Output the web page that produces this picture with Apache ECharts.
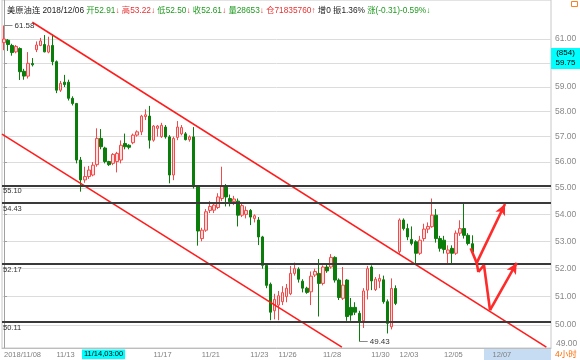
<!DOCTYPE html>
<html><head><meta charset="utf-8">
<script src="https://cdn.jsdelivr.net/npm/echarts@6/dist/echarts.min.js"></script>
<style>html,body{margin:0;padding:0;background:#fff}#c{width:580px;height:360px}</style>
</head><body><div id="c"></div>
<script>
// ---- data (4-hour candles) ----
const open  = [60.85,60.95,60.73,60.46,60.60,59.65,59.45,59.97,60.55,60.73,60.77,60.45,60.73,60.05,58.87,59.20,59.20,58.54,58.33,56.08,55.31,55.44,55.50,55.90,56.93,56.55,56.02,55.95,56.02,56.08,56.73,56.66,56.76,57.06,57.19,57.80,57.82,56.86,57.33,57.00,57.38,56.99,55.50,56.97,57.11,57.11,56.88,56.99,55.07,53.10,53.41,54.15,54.16,54.26,54.60,55.07,54.60,54.48,54.50,53.97,54.00,54.15,53.85,53.79,53.16,52.12,51.44,50.50,50.70,50.82,51.00,51.10,51.83,51.98,51.55,51.30,51.17,51.77,51.83,51.47,52.06,52.06,52.41,51.59,50.94,51.59,50.62,50.62,50.41,50.15,51.23,52.06,51.25,51.55,51.60,50.82,49.94,51.29,52.62,53.79,53.47,53.07,52.98,52.56,53.10,53.45,53.54,53.97,53.10,53.04,52.56,52.74,52.56,53.30,53.47,53.22,52.91];
const close = [61.00,60.77,60.43,60.69,59.63,59.45,59.98,59.92,60.75,60.92,60.46,60.72,60.05,58.87,59.15,59.10,58.54,58.33,56.08,55.31,55.44,55.69,55.88,56.93,56.60,56.02,55.90,56.30,56.34,56.66,56.60,56.58,57.06,57.19,57.82,57.87,56.86,57.42,57.42,57.45,56.99,55.50,56.93,57.38,57.36,56.88,56.99,55.05,53.38,53.41,54.10,54.30,54.35,54.66,55.07,54.66,54.48,54.58,53.97,54.33,54.15,53.90,53.95,53.16,52.12,51.40,50.45,50.90,51.03,51.14,51.30,51.83,52.00,51.62,51.30,51.15,51.73,51.90,51.47,52.06,51.92,52.41,51.59,50.97,51.41,50.30,50.35,50.45,50.11,51.20,52.00,51.56,51.62,51.65,50.82,50.06,51.29,50.76,53.79,53.47,53.16,52.92,52.56,53.04,53.45,53.55,53.97,53.10,52.74,52.70,52.68,52.56,53.30,53.47,53.22,52.92,52.61];
const low   = [60.53,60.50,60.30,60.40,59.29,59.30,59.35,59.85,60.45,60.70,60.44,60.40,59.90,58.75,58.80,59.00,58.45,58.25,55.95,54.86,55.20,55.35,55.45,55.82,56.50,55.95,55.85,55.88,55.60,55.95,56.50,56.50,56.70,57.00,57.06,57.66,56.53,56.80,57.00,56.95,56.92,55.18,55.30,56.86,57.05,56.85,56.80,54.98,52.84,53.00,53.35,54.05,54.05,54.20,54.50,54.30,54.30,54.35,53.55,53.90,53.85,53.60,53.70,52.86,52.00,51.30,50.17,50.20,50.17,50.70,50.80,51.05,51.75,51.50,51.15,51.10,50.70,51.70,50.30,51.40,51.85,52.00,51.50,50.88,50.88,50.15,50.15,50.35,49.43,49.90,50.90,51.23,51.20,51.30,50.75,49.71,49.85,50.70,52.55,53.40,53.04,52.85,52.20,52.50,53.00,53.30,53.50,52.95,52.62,52.55,52.20,52.17,52.50,53.20,53.10,52.85,52.50];
const high  = [61.58,61.00,60.80,60.75,60.65,59.75,60.45,60.20,60.90,61.05,61.17,61.10,61.20,60.10,59.25,59.50,59.30,58.62,58.35,56.20,55.82,55.85,56.00,57.33,57.30,56.60,56.05,56.35,56.40,56.85,57.12,56.70,57.12,57.25,57.87,58.09,58.23,57.46,57.46,57.55,57.46,57.06,57.00,57.62,57.46,57.18,57.05,57.38,55.10,53.50,54.20,54.50,54.45,54.80,55.82,55.15,54.75,54.70,54.60,54.45,54.30,54.20,54.00,53.90,53.20,52.20,51.50,51.10,51.20,51.37,51.45,52.10,52.22,52.05,51.62,51.35,51.90,52.00,52.35,52.12,52.15,52.53,52.45,51.65,52.06,51.62,50.95,50.80,50.50,51.30,52.10,52.12,51.70,51.80,51.75,50.90,51.65,51.40,53.85,53.85,53.65,53.55,53.04,53.20,53.65,53.70,54.60,54.20,53.20,53.20,52.85,52.85,53.40,53.78,54.45,53.30,53.22];

// time slots incl. empty future slots, day boundaries and shown date labels
const slotCount = 136;
const dayStarts = [0,13,19,25,31,37,43,49,55,61,67,68,73,79,85,91,97,98,103,109,114,121,127,133];
const dayNames  = ['2018/11/08','11/13','11/14','11/15','11/16','11/17','11/20','11/21','11/22','11/23','11/24','11/26','11/27','11/28','11/29','11/30','12/01','12/03','12/04','12/05','12/06','12/07','12/10','12/11'];
const shownDays = ['2018/11/08','11/13','11/15','11/17','11/21','11/23','11/26','11/28','11/30','12/03','12/05','12/07'];
const priceTicks = [50,51,52,53,54,55,56,57,58,59,60,61];

// support / resistance levels and last price
const levels = [55.10, 54.43, 52.17, 50.11];
const lastPrice = 52.61;

// hand-drawn annotations in [slot, price]
const upperChannel = [[7, 61.72], [134.35, 49.24]];
const lowerChannel = [[-0.5, 57.10], [83.7, 49.24]];
const arrowPath1 = [[115.6, 52.74], [117.1, 52.21], [124.1, 54.39]];
const arrowPath2 = [[117.1, 52.21], [117.5, 51.88], [118.9, 52.13], [120.4, 50.52], [127.0, 52.21]];

// ---- build ----
const FONT = "'Liberation Sans', 'Noto Sans CJK SC', sans-serif";
const cats = [];
for (let i = 0; i < slotCount; i++) {
  let d = 0;
  for (let k = 0; k < dayStarts.length; k++) if (dayStarts[k] <= i) d = k;
  cats.push(dayNames[d] + ' ' + (i - dayStarts[d]));
}
const tickSet = new Set(dayStarts);
const labelSet = new Set(dayStarts.filter((s, k) => shownDays.includes(dayNames[k])));
const candles = open.map((o, i) => [o, close[i], low[i], high[i]]);

let hiIdx = 0, loIdx = 0;
high.forEach((v, i) => { if (v > high[hiIdx]) hiIdx = i; });
low.forEach((v, i) => { if (v < low[loIdx]) loIdx = i; });

const arrowSegs = [];
[arrowPath1, arrowPath2].forEach(p => {
  for (let k = 0; k < p.length - 1; k++) {
    arrowSegs.push([{ coord: p[k] }, { coord: p[k + 1], symbol: k === p.length - 2 ? 'arrow' : 'none', symbolSize: [8, 11] }]);
  }
});

const HF = 8.3;
const chart = echarts.init(document.getElementById('c'), null, { renderer: 'canvas' });
chart.setOption({
  animation: false,
  backgroundColor: '#fff',
  title: {
    left: 2, top: 2,
    text: '{k|美原油连 2018/12/06 }{g|开52.91}{r|↓ }{r|高53.22↓ }{g|低52.50}{r|↓ }{g|收52.61}{r|↓ }{g|量28653}{r|↓ }{r|仓71835760↑ }{k|增0 振1.36% }{g|涨(-0.31)-0.59%↓}',
    textStyle: {
      fontSize: HF, fontFamily: FONT, fontWeight: 'normal',
      rich: {
        k: { color: '#222', fontSize: HF, fontFamily: FONT },
        g: { color: '#1f9a1f', fontSize: HF, fontFamily: FONT },
        r: { color: '#e83030', fontSize: HF, fontFamily: FONT }
      }
    }
  },
  grid: { left: 2, right: 29, top: 0, bottom: 12, show: true, borderColor: '#c8c8c8', borderWidth: 1 },
  xAxis: [{
    type: 'category', data: cats, boundaryGap: true, z: 5,
    axisLine: { lineStyle: { color: '#bdbdbd' } },
    axisTick: { interval: (i) => tickSet.has(i), length: 3, lineStyle: { color: '#9a9a9a' } },
    axisLabel: { interval: (i) => labelSet.has(i), formatter: (v) => v.split(' ')[0], align: 'left',
      color: '#808080', fontSize: 7.5, fontFamily: FONT, margin: 3 },
    splitLine: { show: false }
  }, {
    type: 'value', min: -0.5, max: slotCount - 0.5, show: false
  }],
  yAxis: {
    type: 'log', logBase: 10, position: 'right', min: 49.21, max: 62.68,
    axisLine: { show: true, lineStyle: { color: '#a0a0a0' } },
    axisTick: { show: true, length: 3, customValues: priceTicks, lineStyle: { color: '#a0a0a0' } },
    axisLabel: { customValues: priceTicks, formatter: (v) => Number(v).toFixed(2), color: '#888',
      fontSize: 8.5, fontFamily: FONT, margin: 4 },
    splitLine: { show: true, lineStyle: { color: '#dcdcdc', width: 1 } }
  },
  series: [{
    type: 'candlestick', data: candles, barWidth: 3,
    itemStyle: { color: '#ffdcdc', color0: '#0a7d0a', borderColor: '#f24a4a', borderColor0: '#0a7d0a', borderWidth: 1 },
    markLine: {
      silent: true, symbol: ['none', 'none'], animation: false,
      lineStyle: { color: '#3a3a3a', width: 2, type: 'solid' },
      label: { position: 'insideStartBottom', formatter: (p) => Number(p.value).toFixed(2), color: '#333',
        fontSize: 7.5, fontFamily: FONT, distance: [1, 2] },
      data: levels.map(v => ({ yAxis: v })).concat([{
        yAxis: lastPrice, lineStyle: { opacity: 0 },
        label: { position: 'end', distance: 1, formatter: (p) => Number(p.value).toFixed(2), color: '#f03030',
          fontSize: 8.5, fontFamily: FONT, backgroundColor: '#e6f3e6', padding: [1, 4, 1, 3] }
      }])
    }
  }, {
    type: 'line', xAxisIndex: 1, data: upperChannel, symbol: 'none', silent: true, clip: true, z: 3,
    lineStyle: { color: '#ff1c1c', width: 1.6 },
    markLine: {
      silent: true, symbol: ['none', 'none'], animation: false,
      lineStyle: { color: '#ff2a2a', width: 2.6, type: 'solid' },
      label: { show: false },
      data: arrowSegs
    }
  }, {
    type: 'line', xAxisIndex: 1, data: lowerChannel, symbol: 'none', silent: true, clip: true, z: 3,
    lineStyle: { color: '#ff1c1c', width: 1.6 },
    markLine: {
      silent: true, symbol: ['none', 'none'], animation: false,
      lineStyle: { color: '#8a8a8a', width: 1, type: 'solid' },
      label: { show: true, position: 'end', distance: 2, formatter: (p) => p.name, color: '#333', fontSize: 8, fontFamily: FONT },
      data: [
        [{ coord: [hiIdx, high[hiIdx]], name: high[hiIdx].toFixed(2) }, { coord: [hiIdx + 2.1, high[hiIdx]] }],
        [{ coord: [loIdx, low[loIdx]], name: low[loIdx].toFixed(2) }, { coord: [loIdx + 2.1, low[loIdx]] }]
      ]
    }
  }],
  graphic: [
    { type: 'rect', z: -1, shape: { x: 484, y: 349, width: 67, height: 11 }, style: { fill: '#c6dcf2' } },
    { type: 'text', z: 100, x: 82, y: 349.5, style: { text: '11/14,03:00', fill: '#000', fontSize: 7.5, fontFamily: FONT,
      backgroundColor: '#00ffff', padding: [1, 2, 1, 2] } },
    { type: 'rect', z: 100, shape: { x: 551, y: 48, width: 29, height: 21 }, style: { fill: '#00ffff' } },
    { type: 'text', z: 101, x: 565.5, y: 53, style: { text: '(854)', fill: '#000', fontSize: 8, fontFamily: FONT, align: 'center', verticalAlign: 'middle' } },
    { type: 'text', z: 101, x: 565.5, y: 63, style: { text: '59.75', fill: '#000', fontSize: 8, fontFamily: FONT, align: 'center', verticalAlign: 'middle' } },
    { type: 'text', z: 100, x: 556, y: 343.5, style: { text: '49.00', fill: '#888', fontSize: 8.5, fontFamily: FONT, verticalAlign: 'middle' } },
    { type: 'text', z: 100, x: 555, y: 354.5, style: { text: '4小时', fill: '#ff6a00', fontSize: 8.5, fontFamily: FONT, verticalAlign: 'middle' } },
    { type: 'rect', z: 100, shape: { x: 571.5, y: 1.5, width: 6, height: 5 }, style: { fill: '#fff', stroke: '#ff7f27', lineWidth: 1 } }
  ]
});
</script></body></html>
